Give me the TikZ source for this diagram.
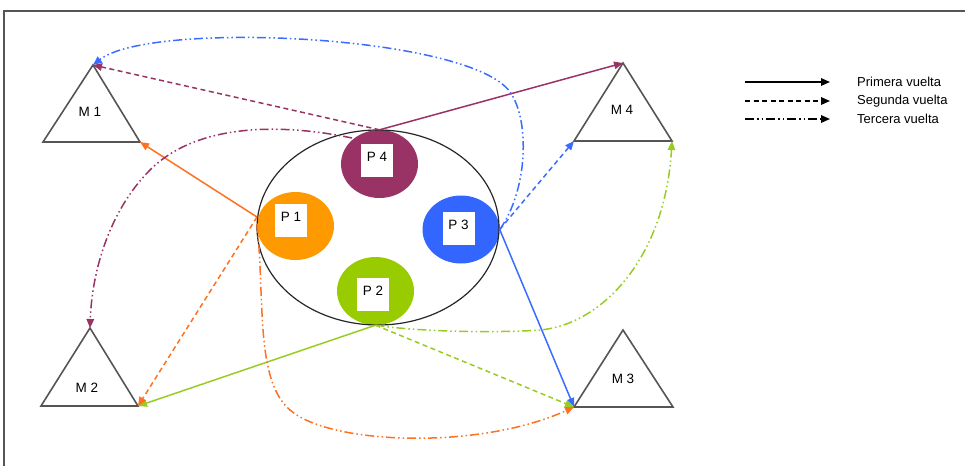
\documentclass[tikz,border=0pt]{standalone}
\usepackage{fontspec}
\setmainfont{Liberation Sans}
\usetikzlibrary{shapes.geometric,arrows.meta}
\definecolor{cor}{HTML}{FF7020}
\definecolor{corfill}{HTML}{FF9900}
\definecolor{cma}{HTML}{993366}
\definecolor{cbl}{HTML}{3A6DFF}
\definecolor{cblfill}{HTML}{3366FF}
\definecolor{cgr}{HTML}{99CC22}
\definecolor{cgrfill}{HTML}{99CC00}
\definecolor{tricol}{HTML}{555555}
\begin{document}
\begin{tikzpicture}[x=1pt,y=-1pt,
  conn/.style={line width=1.5pt,-{Triangle[length=9pt,width=7.5pt]}},
  firstv/.style={conn},
  secondv/.style={conn,dash pattern=on 5pt off 3.5pt},
  thirdv/.style={conn,dash pattern=on 9pt off 3pt on 1.5pt off 3pt on 1.5pt off 3pt},
  tri/.style={draw=tricol,line width=1.6pt,line join=miter},
  pfill/.style={ellipse,inner sep=0pt,minimum width=77pt,minimum height=68pt},
  pbox/.style={fill=white,inner sep=0pt,minimum width=32pt,minimum height=33pt,text depth=7pt,font=\fontsize{13.5}{15}\selectfont},
  mlbl/.style={inner sep=0pt,font=\fontsize{13.5}{15}\selectfont},
  leg/.style={inner sep=0pt,anchor=west,font=\fontsize{13}{14}\selectfont}]
\useasboundingbox (0,0) rectangle (965,466);
% frame
\draw[draw=tricol,line width=2pt] (4,466) -- (4,11) -- (965,11);
% processes
\node[pfill,fill=cma] (P4) at (379.5,164) {};
\node[pfill,fill=corfill] (P1) at (295.5,226) {};
\node[pfill,fill=cblfill] (P3) at (461,229.5) {};
\node[pfill,fill=cgrfill] (P2) at (375.5,291) {};
\node[pbox] (P4b) at (377,160.5) {P 4};
\node[pbox] (P1b) at (291,220) {P 1};
\node[pbox] (P3b) at (458.5,228.5) {P 3};
\node[pbox] (P2b) at (373,294.5) {P 2};
\node[draw=black!85,line width=1.2pt,ellipse,inner sep=0pt,minimum width=242pt,minimum height=195pt] (E) at (378,227.5) {};
% machines
\coordinate (M1t) at (93,65); \coordinate (M1l) at (43,142); \coordinate (M1r) at (140,142);
\coordinate (M2t) at (90,328); \coordinate (M2l) at (41,406); \coordinate (M2r) at (138,406);
\coordinate (M3t) at (623,330); \coordinate (M3l) at (574,407); \coordinate (M3r) at (673,407);
\coordinate (M4t) at (623,63); \coordinate (M4l) at (574,141); \coordinate (M4r) at (672,141);
\draw[tri] (M1t) -- (M1r) -- (M1l) -- cycle;
\draw[tri] (M2t) -- (M2r) -- (M2l) -- cycle;
\draw[tri] (M3t) -- (M3r) -- (M3l) -- cycle;
\draw[tri] (M4t) -- (M4r) -- (M4l) -- cycle;
\node[mlbl] (M1) at (90,112) {M 1};
\node[mlbl] (M2) at (87,388) {M 2};
\node[mlbl] (M3) at (623,379) {M 3};
\node[mlbl] (M4) at (622,110) {M 4};
% start points
\coordinate (P1o) at (257,217);
\coordinate (P1d) at (257,224);
\coordinate (P4o) at (352,138);
% primera vuelta
\draw[firstv,cor] (P1o) -- (M1r);
\draw[firstv,cma] (P4.north) -- (M4t);
\draw[firstv,cbl] (P3.east) -- (M3l);
\draw[firstv,cgr] (P2.south) -- (M2r);
% segunda vuelta
\draw[secondv,cma] (P4.north) -- (M1t);
\draw[secondv,cor] (P1o) -- (M2r);
\draw[secondv,cbl] (P3.east) -- (M4l);
\draw[secondv,cgr] (P2.south) -- (M3l);
% tercera vuelta
\draw[thirdv,cbl] (P3.east) .. controls (528,190) and (530,120) .. (510,92) .. controls (470,35) and (150,20) .. (M1t);
\draw[thirdv,cma] (P4o) .. controls (290,125) and (200,120) .. (150,170) .. controls (110,210) and (92,270) .. (M2t);
\draw[thirdv,cor] (P1d) .. controls (265,300) and (255,380) .. (290,410) .. controls (330,445) and (480,450) .. (M3l);
\draw[thirdv,cgr] (P2.south) .. controls (420,332) and (500,333) .. (540,330) .. controls (600,325) and (665,260) .. (M4r);
% legend
\coordinate (L1a) at (745,82); \coordinate (L1b) at (830,82);
\coordinate (L2a) at (745,101); \coordinate (L2b) at (830,101);
\coordinate (L3a) at (745,119); \coordinate (L3b) at (830,119);
\draw[firstv,black] (L1a) -- (L1b);
\draw[secondv,black] (L2a) -- (L2b);
\draw[thirdv,black] (L3a) -- (L3b);
\node[leg] (T1) at (857,82) {Primera vuelta};
\node[leg] (T2) at (857,101) {Segunda vuelta};
\node[leg] (T3) at (857,119) {Tercera vuelta};
\end{tikzpicture}
\end{document}
